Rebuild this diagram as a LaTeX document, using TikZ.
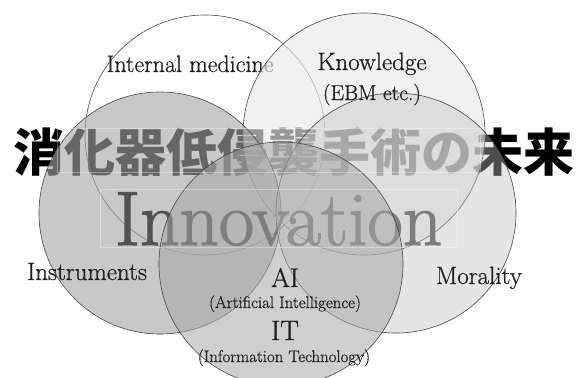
\documentclass[tikz,border=0pt]{standalone}
\usepackage{fontspec}
\newfontfamily\jpfont{Noto Sans CJK JP}
\newfontfamily\tagfont{Latin Modern Roman}[FakeBold=0.7]
\newfontfamily\bigfont{Latin Modern Roman}[FakeBold=1.6]
\tikzset{
  ring/.style={circle, draw=black!72, line width=0.6pt, inner sep=0pt},
  tag/.style={anchor=base, inner sep=0pt, text=black!88, font=\tagfont\fontsize{25}{25}\selectfont},
  subtag/.style={tag, font=\tagfont\fontsize{16.8}{17}\selectfont},
  band/.style={draw=white, draw opacity=0.35, line width=0.8pt}}

\begin{document}
\begin{tikzpicture}[x=1pt, y=-1pt]
  \fill[white] (0,0) rectangle (577,377);
  \clip (0,0) rectangle (577,377);
  % title sits under the rings
  \node[font=\jpfont\bfseries\fontsize{51}{51}\selectfont, inner sep=0pt] (title) at (293.5,152) {消化器低侵襲手術の未来};
  \node[ring, minimum size=240pt] (med) at (205,135) {};
  \node[tag, font=\tagfont\fontsize{24}{24}\selectfont] (medl) at (190,72) {Internal medicine};
  \node[ring, minimum size=242pt, fill=black!8, fill opacity=0.65] (know) at (364,134) {};
  \node[ring, minimum size=242pt, fill=black!35, fill opacity=0.615] (instr) at (160,213) {};
  \node[anchor=base, inner sep=0pt, text=black!68, font=\bigfont\fontsize{77}{77}\selectfont] (innov) at (278.5,245) {Innovation};
  \node[ring, minimum size=240pt, fill=black!25, fill opacity=0.4] (moral) at (396,213) {};
  \node[ring, minimum size=244pt, fill=black!35, fill opacity=0.535] (tech) at (281,264) {};
  % faint text frames
  \draw[band] (57,128) rectangle (480,172);
  \draw[band] (100,189) rectangle (457,247);
  % labels on top
  \node[tag] (knowl) at (372,70) {Knowledge};
  \node[tag, font=\tagfont\fontsize{21.5}{22}\selectfont] (ebm) at (372,100) {(EBM etc.)};
  \node[tag] (instrl) at (87,280) {Instruments};
  \node[tag] (morall) at (479,284) {Morality};
  \node[tag, font=\tagfont\fontsize{27}{27}\selectfont] (ai) at (285,287) {AI};
  \node[subtag] (aifull) at (285,308) {(Artificial Intelligence)};
  \node[tag, font=\tagfont\fontsize{28}{28}\selectfont] (it) at (285,340) {IT};
  \node[subtag] (itfull) at (284,362) {(Information Technology)};
\end{tikzpicture}
\end{document}
